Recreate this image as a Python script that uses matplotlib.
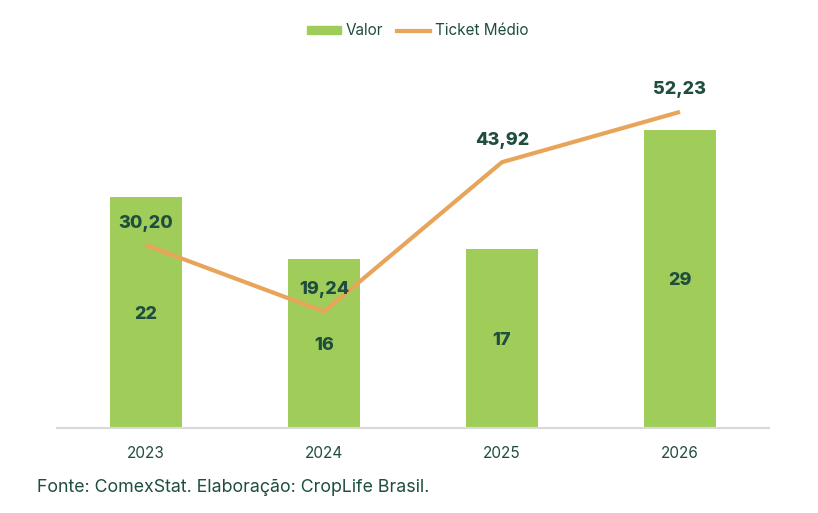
import numpy as np
import matplotlib.pyplot as plt
from matplotlib.patches import Patch
from matplotlib.lines import Line2D

# dados
anos = ['2023', '2024', '2025', '2026']
valor = [22.3, 16.3, 17.3, 28.8]        # barras (eixo esquerdo)
ticket = [30.20, 19.24, 43.92, 52.23]   # linha (eixo direito)

verde = '#A0CD5A'
laranja = '#E8A55A'
texto = '#1F4D3F'

plt.rcParams['font.family'] = ['Inter', 'DejaVu Sans']

fig = plt.figure(figsize=(8.18, 5.13), dpi=100)
ax = fig.add_axes([57/818, 85/513, 712/818, 368/513])
ax2 = ax.twinx()

x = np.arange(len(anos))
barras = ax.bar(x, valor, width=0.40, color=verde, zorder=2)
ax2.plot(x, ticket, color=laranja, lw=3, solid_capstyle='butt', zorder=3)

ax.set_xlim(-0.5, 3.5)
ax.set_ylim(0, 35.55)
ax2.set_ylim(0, 60.8)

# rotulos das barras
for xi, v in zip(x, valor):
    ax.text(xi, v/2, '%d' % round(v), ha='center', va='center_baseline',
            fontsize=13, fontweight='heavy', color=texto)

# rotulos da linha
for xi, t in zip(x, ticket):
    ax2.annotate(('%.2f' % t).replace('.', ','), (xi, t), xytext=(0, 24),
                 textcoords='offset pixels', ha='center', va='center_baseline',
                 fontsize=13, fontweight='heavy', color=texto, zorder=4)

ax.set_zorder(ax2.get_zorder() - 1)
ax.patch.set_visible(False)

for a in (ax, ax2):
    for s in ('top', 'right', 'left', 'bottom'):
        a.spines[s].set_visible(False)
    a.set_yticks([])
ax.spines['bottom'].set_visible(True)
ax.spines['bottom'].set_color('#D9D9D9')
ax.spines['bottom'].set_linewidth(1.5)

ax.set_xticks(x)
ax.set_xticklabels(anos, fontsize=11, color=texto)
ax.tick_params(axis='x', length=0, pad=13)

# legenda
handles = [Patch(color=verde, label='Valor'),
           Line2D([0], [0], color=laranja, lw=3, label='Ticket Médio')]
fig.legend(handles=handles, loc='center', bbox_to_anchor=(0.511, 1 - 31/513),
           ncol=2, frameon=False, fontsize=11, labelcolor=texto,
           handlelength=2.2, handleheight=0.45, columnspacing=0.9, handletextpad=0.3)

fig.text(37/818, 1 - 488/513, 'Fonte: ComexStat. Elaboração: CropLife Brasil.',
         fontsize=12.8, color=texto, va='center', ha='left')

fig.savefig('out.png', dpi=100)
